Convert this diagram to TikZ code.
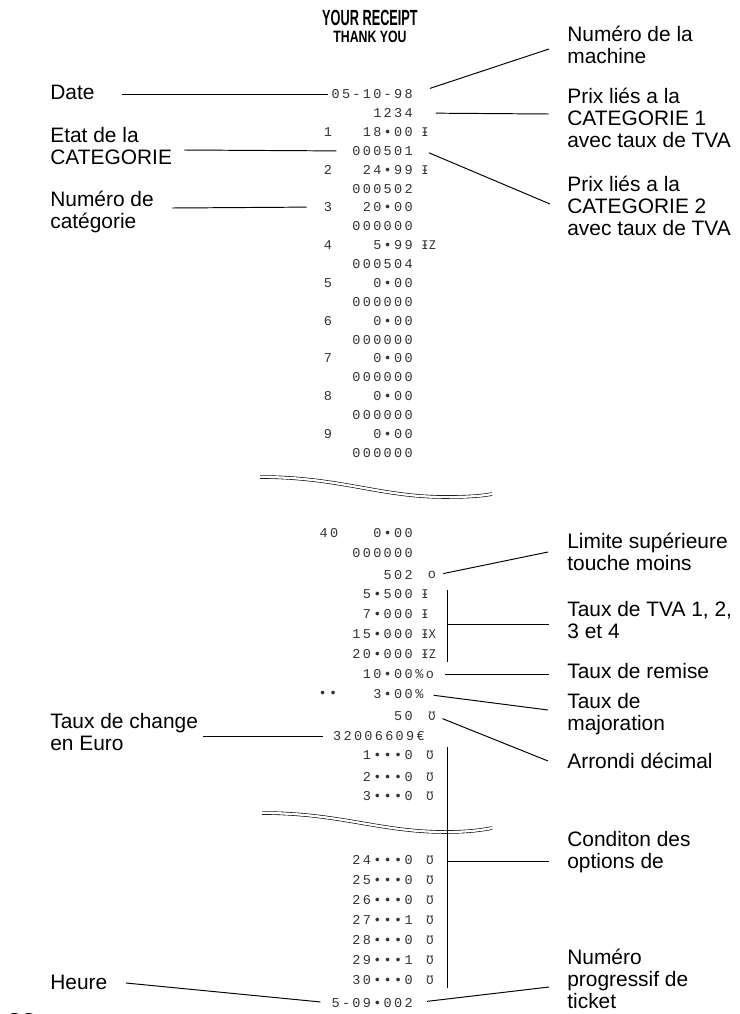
\documentclass[tikz,border=0pt]{standalone}
\usepackage{fontspec}
\setmainfont{Liberation Sans}
\newfontfamily\rcptfont[LetterSpace=17]{Liberation Mono}
\newfontfamily\markfont{DejaVu Sans Mono}
\newcommand\lblsize{\fontsize{11.9}{12.3}\selectfont}
\newcommand\rcptsize{\rcptfont\fontsize{7.7}{8}\selectfont}
\newcommand\marksize{\markfont\fontsize{6.8}{7}\selectfont}

\begin{document}
\begin{tikzpicture}[x=0.02cm, y=-0.02cm,
	lbl/.style={anchor=base west, align=left, inner sep=0pt, font=\lblsize},
	rec/.style={anchor=east, inner sep=0pt, text=black!80, font=\rcptsize},
	recnum/.style={rec, anchor=center},
	mrk/.style={anchor=west, inner sep=0pt, text=black!80, font=\marksize},
	lead/.style={line width=0.55pt},
	tear/.style={line width=0.35pt, double, double distance=1.3pt}]
			%%%%% START %%%%%
			
			\useasboundingbox (0,0) rectangle (740,1014);
			
			\node[inner sep=0pt, font=\bfseries\fontsize{12.5}{13}\selectfont] (head1) at (370,18) {\scalebox{0.58}[1]{YOUR RECEIPT}};
			\node[inner sep=0pt, font=\bfseries\fontsize{9.35}{10}\selectfont] (head2) at (370,37) {\scalebox{0.75}[1]{THANK YOU}};
			
			\node[rec] (rdate) at (413,94) {05-10-98};
			\node[rec] (rmach) at (413,113) {1234};
			\node[recnum] (rc1) at (328,132) {1};
			\node[rec] (rp1) at (413,132) {18•00};
			\node[mrk] (rm1) at (421,132) {Ɨ};
			\node[rec] (rs1) at (413,151) {000501};
			\node[recnum] (rc2) at (328,170) {2};
			\node[rec] (rp2) at (413,170) {24•99};
			\node[mrk] (rm2) at (421,170) {Ɨ};
			\node[rec] (rs2) at (413,189) {000502};
			\node[recnum] (rc3) at (328,207) {3};
			\node[rec] (rp3) at (413,207) {20•00};
			\node[rec] (rs3) at (413,226) {000000};
			\node[recnum] (rc4) at (328,245) {4};
			\node[rec] (rp4) at (413,245) {5•99};
			\node[mrk] (rm4) at (421,245) {ƗZ};
			\node[rec] (rs4) at (413,264) {000504};
			\node[recnum] (rc5) at (328,283) {5};
			\node[rec] (rp5) at (413,283) {0•00};
			\node[rec] (rs5) at (413,302) {000000};
			\node[recnum] (rc6) at (328,321) {6};
			\node[rec] (rp6) at (413,321) {0•00};
			\node[rec] (rs6) at (413,340) {000000};
			\node[recnum] (rc7) at (328,358) {7};
			\node[rec] (rp7) at (413,358) {0•00};
			\node[rec] (rs7) at (413,377) {000000};
			\node[recnum] (rc8) at (328,396) {8};
			\node[rec] (rp8) at (413,396) {0•00};
			\node[rec] (rs8) at (413,415) {000000};
			\node[recnum] (rc9) at (328,434) {9};
			\node[rec] (rp9) at (413,434) {0•00};
			\node[rec] (rs9) at (413,453) {000000};
			
			\draw[tear] (260,477) .. controls (340,477) and (380,497) .. (445,497) .. controls (468,497) and (482,496) .. (492,494);
			
			\node[recnum] (rc40) at (329,533) {40};
			\node[rec] (rp40) at (413,533) {0•00};
			\node[rec] (rs40) at (413,553) {000000};
			\node[rec] (rlim) at (413,575) {502};
			\node[recnum] (rlimo) at (432,575) {o};
			\node[rec] (rt1) at (413,594) {5•500};
			\node[mrk] (rtm1) at (421,594) {Ɨ};
			\node[rec] (rt2) at (413,614) {7•000};
			\node[mrk] (rtm2) at (421,614) {Ɨ};
			\node[rec] (rt3) at (413,634) {15•000};
			\node[mrk] (rtm3) at (421,634) {ƗX};
			\node[rec] (rt4) at (413,654) {20•000};
			\node[mrk] (rtm4) at (421,654) {ƗZ};
			\node[rec] (rrem) at (413,674) {10•00};
			\node[rec, anchor=west] (rremo) at (415,674) {\%o};
			\node[recnum] (rdots) at (328,694) {••};
			\node[rec] (rmaj) at (413,694) {3•00};
			\node[rec, anchor=west] (rmajp) at (415,694) {\%};
			\node[rec] (rarr) at (413,716) {50};
			\node[mrk, anchor=center] (rarro) at (432,716) {Ʊ};
			\node[rec] (reuro) at (425,736) {32006609€};
			\node[rec] (ro1) at (413,755) {1•••0};
			\node[mrk, anchor=center] (rom1) at (430,755) {Ʊ};
			\node[rec] (ro2) at (413,777) {2•••0};
			\node[mrk, anchor=center] (rom2) at (430,777) {Ʊ};
			\node[rec] (ro3) at (413,796) {3•••0};
			\node[mrk, anchor=center] (rom3) at (430,796) {Ʊ};
			
			\draw[tear] (262,813) .. controls (340,813) and (380,832) .. (445,832) .. controls (468,832) and (482,830) .. (492,828);
			
			\node[rec] (ro24) at (413,860) {24•••0};
			\node[mrk, anchor=center] (rom24) at (430,860) {Ʊ};
			\node[rec] (ro25) at (413,880) {25•••0};
			\node[mrk, anchor=center] (rom25) at (430,880) {Ʊ};
			\node[rec] (ro26) at (413,900) {26•••0};
			\node[mrk, anchor=center] (rom26) at (430,900) {Ʊ};
			\node[rec] (ro27) at (413,920) {27•••1};
			\node[mrk, anchor=center] (rom27) at (430,920) {Ʊ};
			\node[rec] (ro28) at (413,940) {28•••0};
			\node[mrk, anchor=center] (rom28) at (430,940) {Ʊ};
			\node[rec] (ro29) at (413,960) {29•••1};
			\node[mrk, anchor=center] (rom29) at (430,960) {Ʊ};
			\node[rec] (ro30) at (413,980) {30•••0};
			\node[mrk, anchor=center] (rom30) at (430,980) {Ʊ};
			\node[rec] (rtick) at (413,1003) {5-09•002};
			
			\node[lbl] (ldate) at (50,99) {Date};
			\node[lbl] (letat) at (50,164) {Etat de la\\CATEGORIE};
			\node[lbl] (lnumcat) at (50,228) {Numéro de\\catégorie};
			\node[lbl] (lchange) at (50,750) {Taux de change\\en Euro};
			\node[lbl] (lheure) at (50,989) {Heure};
			\node[lbl] (lmach) at (567,63) {Numéro de la\\machine};
			\node[lbl] (lprix1) at (567,147) {Prix liés a la\\CATEGORIE 1\\avec taux de TVA};
			\node[lbl] (lprix2) at (567,235) {Prix liés a la\\CATEGORIE 2\\avec taux de TVA};
			\node[lbl] (llimite) at (567,570) {Limite supérieure\\touche moins};
			\node[lbl] (ltva) at (567,638) {Taux de TVA 1, 2,\\3 et 4};
			\node[lbl] (lremise) at (567,678) {Taux de remise};
			\node[lbl] (lmajor) at (567,730) {Taux de\\majoration};
			\node[lbl] (larrondi) at (567,768) {Arrondi décimal};
			\node[lbl] (lcond) at (567,868) {Conditon des\\options de};
			\node[lbl] (lticket) at (567,1008) {Numéro\\progressif de\\ticket};
			\node[anchor=base west, inner sep=0pt, font=\bfseries\fontsize{14.7}{15}\selectfont] (lpage) at (7,1031) {22};
			
			\coordinate (cdate) at (122,94);
			\coordinate (cetat) at (184,150);
			\coordinate (cnumcat) at (172,208);
			\coordinate (cchange) at (203,736);
			\coordinate (cheure) at (126,983);
			\coordinate (cmach) at (549,49);
			\coordinate (cprix1) at (549,114);
			\coordinate (cprix2) at (550,204);
			\coordinate (climite) at (548,552);
			\coordinate (ctva) at (549,624);
			\coordinate (cremise) at (549,674);
			\coordinate (cmajor) at (548,710);
			\coordinate (carrondi) at (548,761);
			\coordinate (ccond) at (549,861);
			\coordinate (cticket) at (549,987);
			\coordinate (tvatop) at (447,590);
			\coordinate (tvamid) at (447,624);
			\coordinate (tvabot) at (447,662);
			\coordinate (opttop) at (447,747);
			\coordinate (optmid) at (447,861);
			\coordinate (optbot) at (447,988);
			
			\draw[lead, shorten >=1.7pt] (cdate) -- (rdate.west);
			\draw[lead, shorten >=9pt] (cetat) -- (rs1.west);
			\draw[lead, shorten >=9.6pt] (cnumcat) -- (rc3.west);
			\draw[lead, shorten >=5.7pt] (cchange) -- (reuro.west);
			\draw[lead, shorten >=6.2pt] (cheure) -- (rtick.west);
			
			\draw[lead, shorten <=10.2pt] (rdate.east) -- (cmach);
			\draw[lead, shorten <=13pt] (rmach.east) -- (cprix1);
			\draw[lead, shorten <=9.8pt] (rs1.north east) -- (cprix2);
			\draw[lead, shorten <=4pt] (rlimo.east) -- (climite);
			\draw[lead] (tvatop) -- (tvabot);
			\draw[lead] (tvamid) -- (ctva);
			\draw[lead, shorten <=6.2pt] (rremo.east) -- (cremise);
			\draw[lead, shorten <=5.7pt] (rmajp.east) -- (cmajor);
			\draw[lead, shorten <=4pt] (rarro.east) -- (carrondi);
			\draw[lead] (opttop) -- (optbot);
			\draw[lead] (optmid) -- (ccond);
			\draw[lead, shorten <=8.1pt] (rtick.east) -- (cticket);
			
			%%%%% END %%%%%
\end{tikzpicture}
\end{document}
